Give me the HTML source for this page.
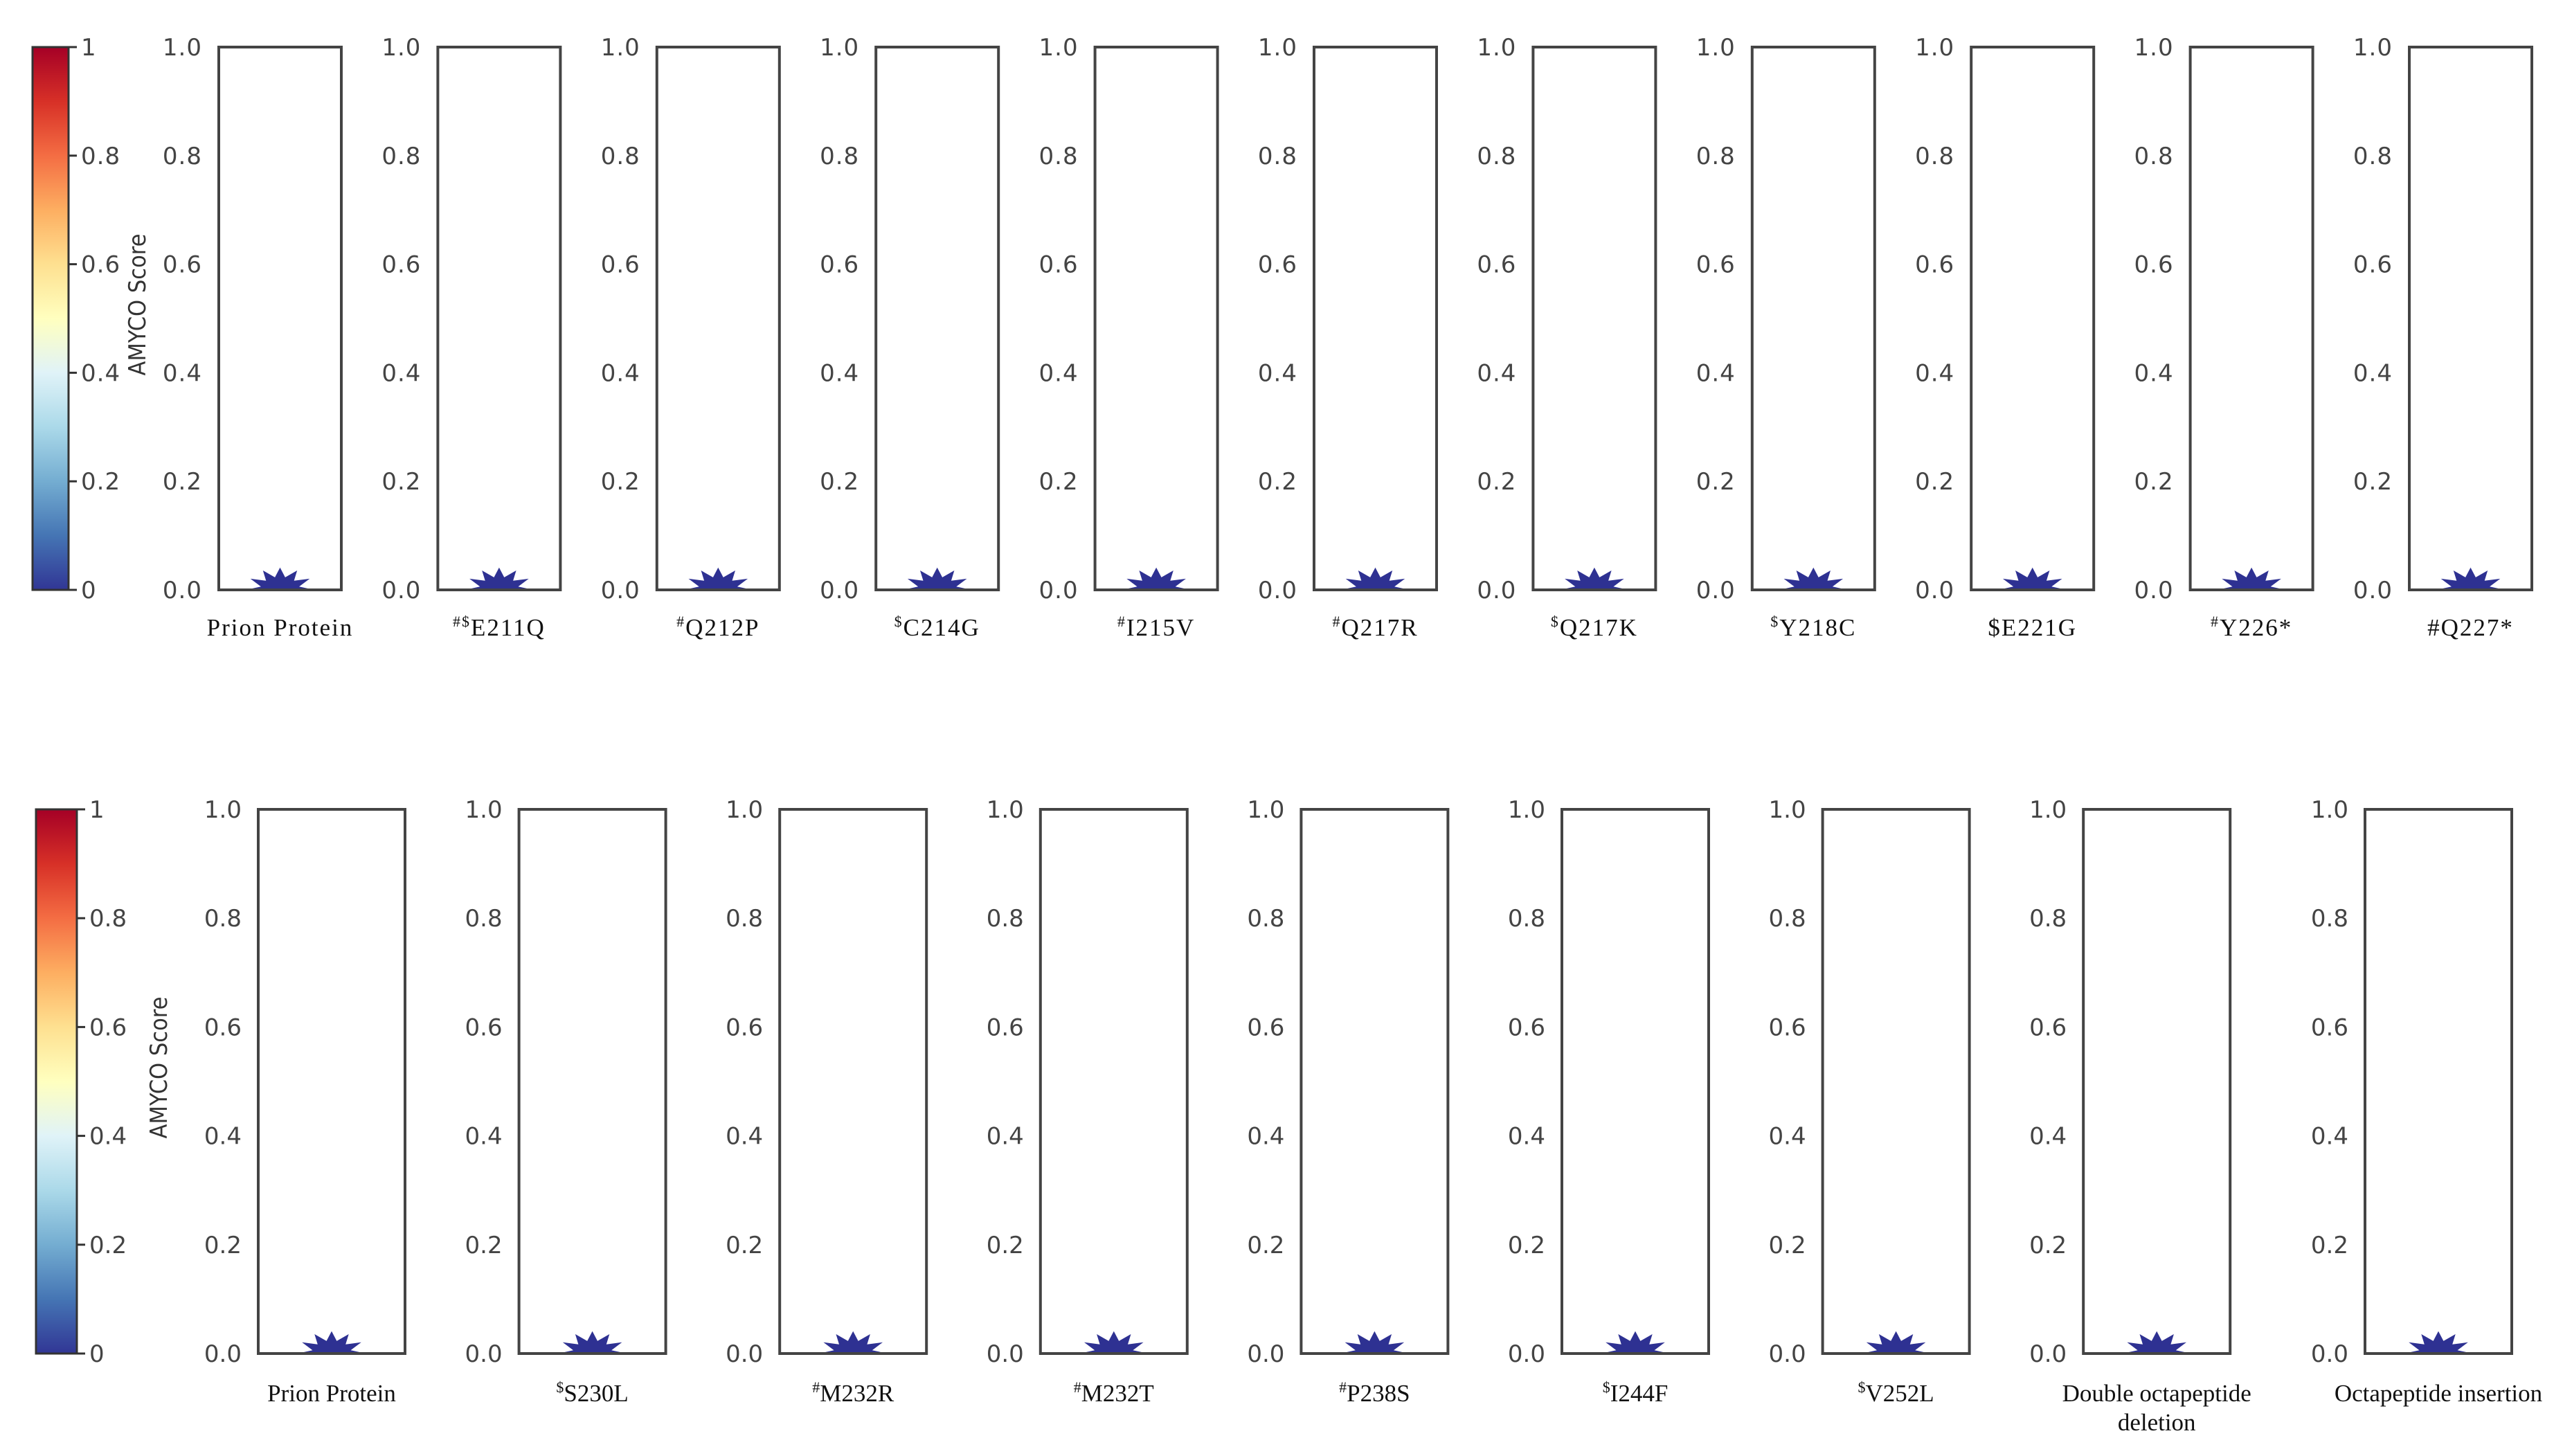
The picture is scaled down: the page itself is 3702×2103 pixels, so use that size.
<!DOCTYPE html>
<html><head><meta charset="utf-8"><style>
html,body{margin:0;padding:0;background:#fff;}
svg{display:block;}
</style></head><body>
<svg id="chart" width="3702" height="2103" xmlns="http://www.w3.org/2000/svg">
<defs>
<linearGradient id="rdylbu" x1="0" y1="1" x2="0" y2="0">
<stop offset="0" stop-color="#313695"/><stop offset="0.1" stop-color="#4575b4"/><stop offset="0.2" stop-color="#74add1"/><stop offset="0.3" stop-color="#abd9e9"/><stop offset="0.4" stop-color="#e0f3f8"/><stop offset="0.5" stop-color="#ffffbf"/><stop offset="0.6" stop-color="#fee090"/><stop offset="0.7" stop-color="#fdae61"/><stop offset="0.8" stop-color="#f46d43"/><stop offset="0.9" stop-color="#d73027"/><stop offset="1" stop-color="#a50026"/>
</linearGradient>
</defs>
</svg>
<script>
const topPrefix = ["", "#$", "#", "$", "#", "#", "$", "$", "", "#", ""];
const topNames = ["Prion Protein", "E211Q", "Q212P", "C214G", "I215V", "Q217R", "Q217K", "Y218C", "$E221G", "Y226*", "#Q227*"];
const topValues = [0, 0, 0, 0, 0, 0, 0, 0, 0, 0, 0];
const botPrefix = ["", "$", "#", "#", "#", "$", "$", "", ""];
const botNames = ["Prion Protein", "S230L", "M232R", "M232T", "P238S", "I244F", "V252L", "Double octapeptide|deletion", "Octapeptide insertion"];
const botValues = [0, 0, 0, 0, 0, 0, 0, 0, 0];
const yTicks = ["0.0", "0.2", "0.4", "0.6", "0.8", "1.0"];
const cbTicks = ["0", "0.2", "0.4", "0.6", "0.8", "1"];

const svg = document.getElementById('chart');
const NS = 'http://www.w3.org/2000/svg';
function mk(tag, attrs, parent) {
  const e = document.createElementNS(NS, tag);
  for (const k in attrs) e.setAttribute(k, attrs[k]);
  (parent || svg).appendChild(e);
  return e;
}

function drawRow(cfg) {
  const y = v => cfg.bottom - v * (cfg.bottom - cfg.top);
  const cb = mk('rect', {x: cfg.cbX, y: cfg.top, width: cfg.cbW, height: cfg.bottom - cfg.top, fill: 'url(#rdylbu)', stroke: '#333', 'stroke-width': 3});
  
  
  cbTicks.forEach((t, i) => {
    const v = i / 5, yy = y(v);
    mk('line', {x1: cfg.cbX + cfg.cbW, x2: cfg.cbX + cfg.cbW + 12, y1: yy, y2: yy, stroke: '#333', 'stroke-width': 3});
    const tx = mk('text', {x: cfg.cbX + cfg.cbW + 18, y: yy + 12, 'font-family': 'DejaVu Sans, sans-serif', 'font-size': 34, 'letter-spacing': cfg.ls, fill: '#444'});
    tx.textContent = t;
    
    
  });
  const ttl = mk('text', {x: 0, y: 0, transform: `translate(${cfg.titleX},${(cfg.top + cfg.bottom) / 2 - 20}) rotate(-90)`, 'text-anchor': 'middle', 'font-family': 'DejaVu Sans Condensed, DejaVu Sans, sans-serif', 'font-size': 34, fill: '#333', 'font-stretch': 'condensed'});
  ttl.textContent = 'AMYCO Score';
  
  

  cfg.names.forEach((name, i) => {
    const px = cfg.lefts[i], w = cfg.pw;
    const g = mk('g', {});
    
    
    const cid = 'clip' + cfg.id + i;
    const cp = mk('clipPath', {id: cid}, g);
    mk('rect', {x: px, y: cfg.top, width: w, height: cfg.bottom - cfg.top}, cp);
    const cx = px + w / 2, cy = y(cfg.values[i]);
    let pts = [];
    for (let k = 0; k < 24; k++) {
      const r = k % 2 === 0 ? 38 : 22;
      const a = -Math.PI / 2 + k * Math.PI / 12;
      pts.push((cx + r * Math.cos(a) * 1.3).toFixed(1) + ',' + (cy + r * Math.sin(a) * 0.85).toFixed(1));
    }
    const star = mk('polygon', {points: pts.join(' '), fill: '#2e3192', 'clip-path': `url(#${cid})`}, g);
    
    
    mk('rect', {x: px, y: cfg.top, width: w, height: cfg.bottom - cfg.top, fill: 'none', stroke: '#444', 'stroke-width': 4}, g);
    yTicks.forEach((t, k) => {
      const tx = mk('text', {x: px - 24, y: y(k / 5) + 12, 'text-anchor': 'end', 'font-family': 'DejaVu Sans, sans-serif', 'font-size': 34, 'letter-spacing': cfg.ls, fill: '#444'}, g);
      tx.textContent = t;
      
      
    });
    const lines = name.split('|');
    lines.forEach((ln, j) => {
      const lb = mk('text', {x: cx, y: cfg.labelY + j * 42, 'text-anchor': 'middle', 'font-family': 'Liberation Serif, serif', 'font-size': 35, 'letter-spacing': cfg.lls, fill: '#111'}, g);
      
      
      if (j === 0 && cfg.prefix[i]) {
        const s = mk('tspan', {'font-size': 22, dy: -13}, lb);
        s.textContent = cfg.prefix[i];
        const m = mk('tspan', {dy: 13}, lb);
        m.textContent = ln;
      } else lb.textContent = ln;
    });
  });
}

const topLefts = [], botLefts = [];
for (let i = 0; i < 11; i++) topLefts.push(316 + i * 316.4);
for (let i = 0; i < 8; i++) botLefts.push(373 + i * 376.6);
botLefts.push(3416);

drawRow({id: 't', top: 68, bottom: 852, cbX: 47, cbW: 52, titleX: 210, lefts: topLefts, pw: 177, names: topNames, prefix: topPrefix, values: topValues, labelY: 918, ls: 1, lls: 2});
drawRow({id: 'b', top: 1169, bottom: 1955, cbX: 52, cbW: 59, titleX: 241, lefts: botLefts, pw: 212, names: botNames, prefix: botPrefix, values: botValues, labelY: 2024, ls: 0, lls: 0});
</script>
</body></html>
